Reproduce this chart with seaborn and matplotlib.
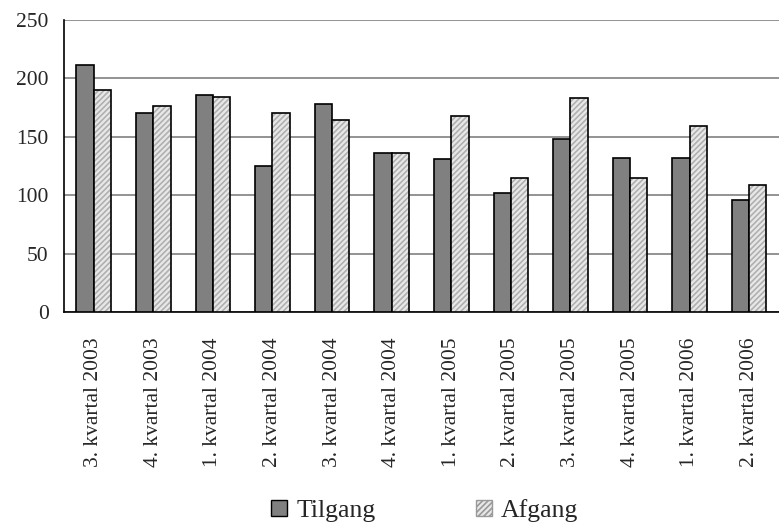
import matplotlib
matplotlib.use("Agg")
import matplotlib.pyplot as plt
from matplotlib.patches import Patch, Rectangle
import seaborn as sns
import pandas as pd

categories = ["3. kvartal 2003", "4. kvartal 2003", "1. kvartal 2004", "2. kvartal 2004",
              "3. kvartal 2004", "4. kvartal 2004", "1. kvartal 2005", "2. kvartal 2005",
              "3. kvartal 2005", "4. kvartal 2005", "1. kvartal 2006", "2. kvartal 2006"]
tilgang = [211, 170, 186, 125, 178, 136, 131, 102, 148, 132, 132, 96]
afgang = [190, 176, 184, 170, 164, 136, 168, 115, 183, 115, 159, 109]
series_names = ["Tilgang", "Afgang"]
y_ticks = [0, 50, 100, 150, 200, 250]

df = pd.DataFrame({
    "kvartal": categories * 2,
    "serie": [series_names[0]] * len(categories) + [series_names[1]] * len(categories),
    "antal": tilgang + afgang,
})

sns.set_style("white")
plt.rcParams["font.family"] = ["Liberation Serif", "DejaVu Serif"]
plt.rcParams["hatch.linewidth"] = 1.2

fig = plt.figure(figsize=(7.79, 5.22), dpi=100)
ax = fig.add_axes([0.082, 0.402, 0.918, 0.56])

sns.barplot(data=df, x="kvartal", y="antal", hue="serie", order=categories,
            hue_order=series_names, palette=["#808080", "#e8e8e8"], width=0.58,
            edgecolor="black", linewidth=1.2, saturation=1, ax=ax, legend=False, zorder=3)

n = len(categories)
patches = list(ax.patches)
for p in patches[n:2 * n]:
    p.set_hatch("//////")
    p.set_edgecolor("#b0b0b0")
    p.set_linewidth(0)
    outline = Rectangle(p.get_xy(), p.get_width(), p.get_height(), fill=False,
                        edgecolor="black", linewidth=1.2, zorder=4)
    ax.add_patch(outline)

ax.set_ylim(0, 250)
ax.set_yticks(y_ticks)
ax.set_yticklabels([str(v) for v in y_ticks], fontsize=15.5)
ax.set_xlim(-0.5, 11.42)
ax.set_xticks([i - 0.5 for i in range(n + 1)])
ax.set_xticklabels([])
ax.set_xticks(list(range(n)), minor=True)
ax.set_xticklabels(categories, minor=True, rotation=90, fontsize=15.5)
ax.tick_params(axis="x", which="major", direction="out", length=7, width=1, color="black")
ax.tick_params(axis="x", which="minor", length=0, pad=18)
ax.tick_params(axis="y", direction="out", length=7, width=1, color="black", pad=4)
ax.set_xlabel("")
ax.set_ylabel("")

ax.yaxis.grid(True, color="#808080", linewidth=1.2, zorder=0)
ax.set_axisbelow(True)
for s in ["top", "right"]:
    ax.spines[s].set_visible(False)
for s in ["left", "bottom"]:
    ax.spines[s].set_color("black")
    ax.spines[s].set_linewidth(1.2)

handles = [Patch(facecolor="#808080", edgecolor="black", linewidth=1.0),
           Patch(facecolor="#e8e8e8", edgecolor="#999999", hatch="//////", linewidth=1.0)]
fig.legend(handles, series_names, loc="center", bbox_to_anchor=(0.545, 0.022),
           ncol=2, frameon=False, fontsize=18.5, handlelength=0.62, handleheight=0.62,
           handletextpad=0.37, columnspacing=3.9, borderpad=0)

fig.savefig("out.png", dpi=100)
